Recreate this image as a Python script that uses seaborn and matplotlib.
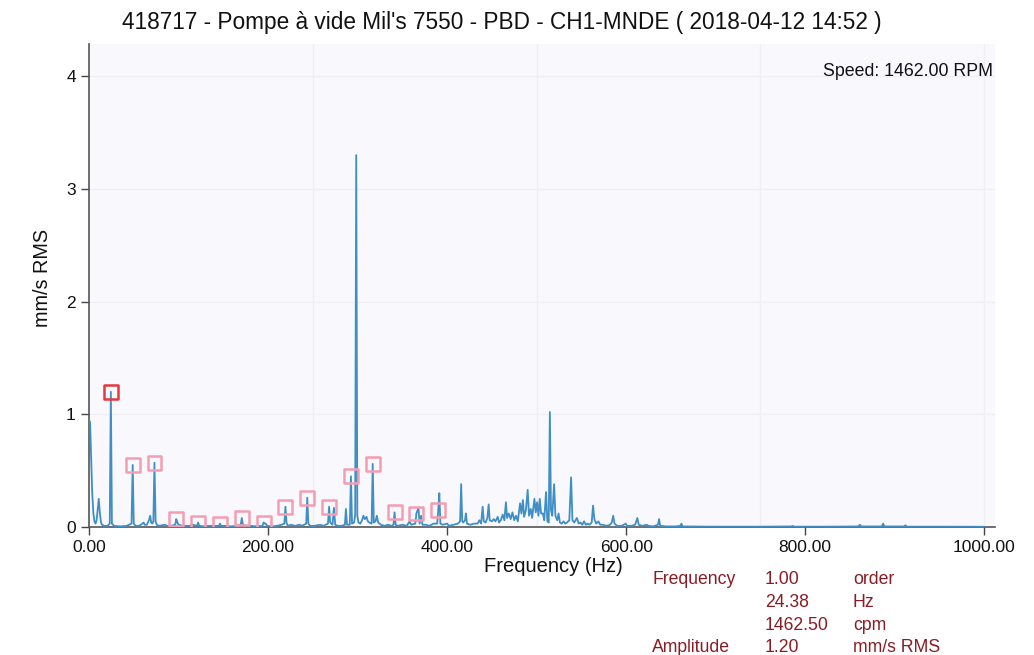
import numpy as np
import pandas as pd
import matplotlib
matplotlib.use("Agg")
import matplotlib.pyplot as plt
import seaborn as sns

TITLE = "418717 - Pompe à vide Mil's 7550 - PBD - CH1-MNDE ( 2018-04-12 14:52 )"
SPEED_TEXT = "Speed: 1462.00 RPM"

# spectrum (Hz, mm/s RMS)
freq_hz = [
    0.0, 1.2, 2.4, 3.6, 4.9, 6.1, 7.3, 8.5, 9.7, 10.9, 12.2, 13.4, 14.6, 17.0, 20.7, 23.2,
    24.4, 25.6, 28.0, 35.0, 42.0, 47.5, 48.8, 50.0, 52.0, 56.0, 59.7, 61.0, 62.2, 64.6,
    67.0, 68.3, 69.5, 70.7, 71.9, 73.1, 74.4, 75.6, 78.0, 85.0, 87.0, 92.0, 96.3, 97.5,
    98.7, 100.0, 105.0, 112.0, 116.0, 120.7, 121.9, 123.1, 128.0, 135.0, 140.0, 145.1,
    146.3, 147.5, 152.0, 158.0, 165.0, 169.5, 170.7, 171.9, 175.0, 180.0, 188.0, 193.8,
    195.0, 196.2, 197.4, 199.0, 205.0, 210.0, 215.0, 218.2, 219.4, 220.6, 222.0, 226.0,
    230.0, 235.0, 238.0, 242.6, 243.8, 245.0, 247.0, 252.0, 258.0, 262.0, 266.9, 268.2,
    269.4, 272.0, 273.6, 275.0, 278.0, 282.0, 285.8, 287.0, 288.2, 291.3, 292.6, 293.8,
    296.0, 297.3, 298.5, 299.7, 301.0, 303.0, 305.0, 306.5, 308.0, 310.0, 311.5, 313.0,
    315.7, 316.9, 318.1, 320.0, 321.5, 323.0, 326.0, 330.0, 334.0, 338.0, 340.1, 341.3,
    342.5, 345.0, 350.0, 355.0, 358.0, 360.0, 364.5, 365.7, 368.0, 369.3, 371.0, 372.5,
    376.0, 380.0, 385.0, 388.9, 390.1, 391.3, 392.5, 395.0, 400.0, 402.0, 407.0, 412.0,
    414.5, 415.7, 416.9, 418.0, 420.0, 421.0, 422.2, 426.0, 430.0, 434.0, 436.0, 438.0,
    439.7, 441.0, 443.0, 445.0, 446.4, 447.6, 450.0, 452.0, 454.0, 456.5, 458.0, 460.0,
    462.0, 464.0, 465.7, 467.0, 469.0, 471.0, 473.0, 475.0, 477.0, 479.0, 481.5, 483.0,
    484.7, 486.0, 488.0, 490.0, 491.5, 493.5, 495.0, 497.5, 499.0, 500.5, 502.0, 503.5,
    505.0, 507.0, 508.5, 510.5, 512.0, 513.5, 514.8, 516.0, 517.5, 519.5, 521.0, 523.0,
    524.5, 526.0, 528.0, 530.0, 532.0, 534.0, 536.5, 538.5, 540.0, 542.0, 545.0, 547.0,
    549.0, 551.0, 553.0, 555.0, 557.0, 559.0, 561.5, 563.0, 564.5, 566.5, 569.0, 571.0,
    574.0, 578.0, 582.0, 584.0, 585.5, 587.0, 590.0, 595.0, 599.5, 601.0, 606.0, 610.0,
    612.5, 614.0, 618.0, 623.0, 625.0, 630.0, 635.5, 636.8, 638.0, 645.0, 655.0, 660.5,
    661.7, 663.0, 700.0, 750.0, 784.5, 786.0, 787.5, 820.0, 859.5, 861.0, 862.5, 885.5,
    887.0, 888.5, 910.5, 912.0, 913.5, 950.0, 1000.0,
]
amp_rms = [
    0.95, 0.93, 0.60, 0.30, 0.12, 0.05, 0.03, 0.06, 0.16, 0.25, 0.12, 0.04, 0.02, 0.01, 0.01, 0.03,
    1.20, 0.03, 0.01, 0.005, 0.01, 0.03, 0.55, 0.03, 0.01, 0.01, 0.03, 0.04, 0.02, 0.02,
    0.06, 0.10, 0.04, 0.03, 0.05, 0.57, 0.05, 0.02, 0.01, 0.02, 0.01, 0.01, 0.02, 0.07,
    0.04, 0.02, 0.01, 0.01, 0.02, 0.01, 0.04, 0.01, 0.005, 0.01, 0.01, 0.01,
    0.03, 0.01, 0.01, 0.005, 0.01, 0.02, 0.08, 0.02, 0.01, 0.01, 0.005, 0.01,
    0.04, 0.03, 0.03, 0.01, 0.005, 0.01, 0.02, 0.03, 0.18, 0.04, 0.01, 0.02,
    0.01, 0.02, 0.01, 0.03, 0.26, 0.03, 0.01, 0.01, 0.02, 0.01, 0.03, 0.18,
    0.04, 0.02, 0.17, 0.02, 0.01, 0.01, 0.02, 0.16, 0.02, 0.02, 0.45, 0.03,
    0.04, 0.10, 3.30, 0.10, 0.04, 0.03, 0.06, 0.10, 0.07, 0.09, 0.05, 0.04,
    0.03, 0.56, 0.04, 0.05, 0.10, 0.04, 0.02, 0.01, 0.02, 0.01, 0.02, 0.13,
    0.02, 0.01, 0.02, 0.01, 0.05, 0.02, 0.03, 0.12, 0.17, 0.03, 0.10, 0.02,
    0.02, 0.01, 0.03, 0.03, 0.15, 0.30, 0.03, 0.02, 0.03, 0.01, 0.02, 0.03,
    0.05, 0.38, 0.05, 0.04, 0.06, 0.12, 0.03, 0.02, 0.03, 0.03, 0.06, 0.03,
    0.18, 0.05, 0.04, 0.08, 0.20, 0.06, 0.05, 0.07, 0.05, 0.09, 0.04, 0.06,
    0.11, 0.06, 0.22, 0.08, 0.12, 0.07, 0.13, 0.06, 0.10, 0.05, 0.21, 0.12,
    0.24, 0.09, 0.15, 0.33, 0.10, 0.16, 0.08, 0.25, 0.13, 0.22, 0.10, 0.25,
    0.12, 0.12, 0.06, 0.31, 0.05, 0.04, 1.02, 0.15, 0.10, 0.38, 0.10, 0.06,
    0.12, 0.04, 0.03, 0.05, 0.03, 0.04, 0.06, 0.44, 0.06, 0.04, 0.08, 0.03,
    0.04, 0.02, 0.05, 0.02, 0.03, 0.02, 0.04, 0.19, 0.07, 0.03, 0.05, 0.02,
    0.02, 0.01, 0.02, 0.04, 0.10, 0.03, 0.01, 0.01, 0.03, 0.01, 0.01, 0.02,
    0.08, 0.02, 0.01, 0.02, 0.01, 0.005, 0.02, 0.07, 0.01, 0.005, 0.005, 0.01,
    0.03, 0.005, 0.003, 0.003, 0.005, 0.01, 0.003, 0.003, 0.005, 0.02, 0.005, 0.005,
    0.03, 0.005, 0.005, 0.015, 0.003, 0.003, 0.002,
]

# running speed order markers (1x .. 16x)
order_freq = [24.38, 48.76, 73.14, 97.52, 121.90, 146.28, 170.66, 195.04,
              219.42, 243.80, 268.18, 292.56, 316.94, 341.32, 365.70, 390.08]
order_amp = [1.20, 0.55, 0.57, 0.07, 0.04, 0.03, 0.08, 0.04,
             0.18, 0.26, 0.18, 0.45, 0.56, 0.13, 0.12, 0.15]

x_ticks = [0, 200, 400, 600, 800, 1000]
y_ticks = [0, 1, 2, 3, 4]
grid_x = [250, 500, 750, 1000]

info_rows = [
    ("Frequency", "1.00", "order"),
    ("", "24.38", "Hz"),
    ("", "1462.50", "cpm"),
    ("Amplitude", "1.20", "mm/s RMS"),
]

sns.set_theme(style="white")
plt.rcParams['font.family'] = ['Liberation Sans', 'DejaVu Sans']

fig = plt.figure(figsize=(10.34, 6.55), dpi=100)
ax = fig.add_axes([89 / 1034, 1 - 527 / 655, (995 - 89) / 1034, (527 - 44) / 655])
ax.set_facecolor("#f8f8fd")

for g in grid_x:
    ax.axvline(g, color="#eeeef3", lw=1.0, zorder=0)
for g in y_ticks[1:]:
    ax.axhline(g, color="#eeeef3", lw=1.0, zorder=0)

spec = pd.DataFrame({"freq": freq_hz, "amp": amp_rms})
sns.lineplot(data=spec, x="freq", y="amp", ax=ax, color="#3f8ec4", lw=1.3,
             estimator=None, sort=False, zorder=3)

orders = pd.DataFrame({"freq": order_freq, "amp": order_amp})
sns.scatterplot(data=orders.iloc[1:], x="freq", y="amp", ax=ax, marker="s", s=100,
                facecolor="none", edgecolor="#f59db0", linewidth=1.8, zorder=4)
sns.scatterplot(data=orders.iloc[:1], x="freq", y="amp", ax=ax, marker="s", s=100,
                facecolor="none", edgecolor="#e8383f", linewidth=1.8, zorder=5)

ax.set_xlim(0, 1012)
ax.set_ylim(0, 4.286)
ax.set_xticks(x_ticks)
ax.set_xticklabels([f"{v:.2f}" for v in x_ticks])
ax.set_yticks(y_ticks)
ax.set_yticklabels([str(v) for v in y_ticks])
ax.tick_params(axis="both", which="major", length=6, width=1, color="#444444",
               labelsize=12.5, labelcolor="#111111", direction="out", bottom=True, left=True)

for side in ["top", "right"]:
    ax.spines[side].set_visible(False)
for side in ["left", "bottom"]:
    ax.spines[side].set_color("#555555")
    ax.spines[side].set_linewidth(1.2)

ax.set_xlabel("")
ax.set_ylabel("")
fig.text(553 / 1034, 1 - 566 / 655, "Frequency (Hz)", ha="center", va="center",
         fontsize=14.5, color="#111111")
fig.text(42 / 1034, 1 - 278 / 655, "mm/s RMS", ha="center", va="center",
         rotation=90, fontsize=14.3, color="#111111")
fig.text(502 / 1034, 1 - 23 / 655, TITLE, ha="center", va="center",
         fontsize=16.3, color="#111111")
fig.text(993 / 1034, 1 - 71 / 655, SPEED_TEXT, ha="right", va="center",
         fontsize=12.8, color="#111111")

col_x = [652, 765, 853]
row_y = [584, 607, 630, 652]
for (a, b, c), yy in zip(info_rows, row_y):
    for txt, xx in zip((a, b, c), col_x):
        if txt:
            fig.text(xx / 1034, 1 - yy / 655, txt, ha="left", va="baseline",
                     fontsize=12.7, color="#8b1c24")

fig.savefig("out.png", dpi=100)
